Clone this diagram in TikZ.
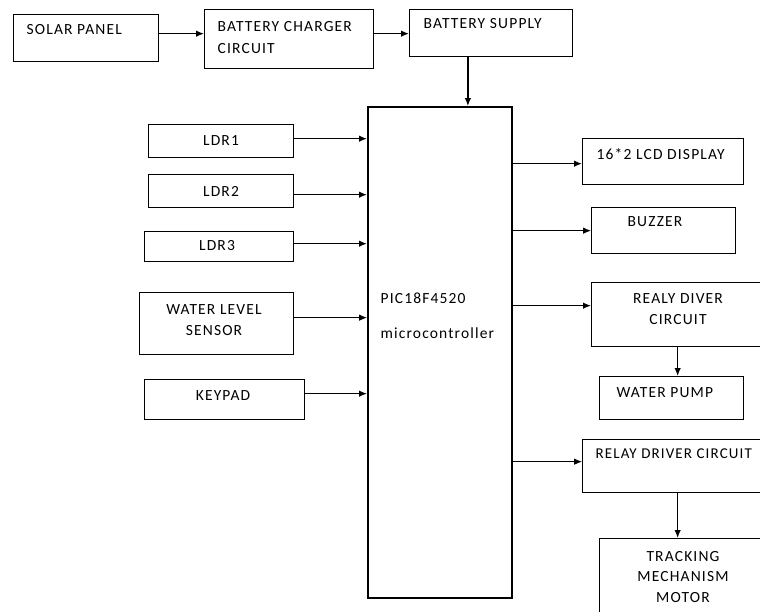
\documentclass[tikz,border=0pt]{standalone}
\usepackage{fontspec}
\setmainfont{Carlito}[LetterSpace=7.5]
\usetikzlibrary{arrows.meta}
\def\conn#1#2{\draw[->] #1 -- #2;}

\begin{document}
\begin{tikzpicture}[>={Latex[length=8pt,width=6.5pt]},x=1pt,y=-1pt,line width=1.3pt,
  box/.style={draw,anchor=north west,inner sep=0pt},
  txt/.style={inner sep=0pt,font=\fontsize{15.5}{21.5}\selectfont},
  fine/.style={line width=0.9pt}]
\useasboundingbox (0,0) rectangle (760,611);
\clip (0,0) rectangle (760,611);
% power chain
\node[box,minimum width=145,minimum height=47] (solar) at (13,14) {};
\node[box,minimum width=169,minimum height=59] (charger) at (204,9) {};
\node[box,minimum width=163,minimum height=47] (supply) at (409,9) {};
\node[box,minimum width=144,minimum height=491,line width=1.8pt] (mcu) at (367,106) {};
% inputs
\node[box,minimum width=145,minimum height=33] (ldr1) at (148,124) {};
\node[box,minimum width=145,minimum height=33] (ldr2) at (148,174) {};
\node[box,minimum width=149,minimum height=30] (ldr3) at (144,231) {};
\node[box,minimum width=154,minimum height=62] (wls) at (139,292) {};
\node[box,minimum width=160,minimum height=40] (keypad) at (144,379) {};
% outputs
\node[box,minimum width=161,minimum height=46] (lcd) at (582,138) {};
\node[box,minimum width=144,minimum height=46] (buzzer) at (591,207) {};
\node[box,minimum width=172,minimum height=64] (relay1) at (591,282) {};
\node[box,minimum width=144,minimum height=43] (pump) at (599,376) {};
\node[box,minimum width=190,minimum height=53] (relay2) at (582,439) {};
\node[box,minimum width=168,minimum height=80] (motor) at (599,538) {};
% labels
\node[txt,anchor=west] (solar-t) at (26,30) {SOLAR PANEL};
\node[txt,anchor=west,align=left] (charger-t) at (217,37.5) {BATTERY CHARGER\\CIRCUIT};
\node[txt,anchor=west] (supply-t) at (423,24) {BATTERY SUPPLY};
\node[txt] (ldr1-t) at (221,141) {LDR1};
\node[txt] (ldr2-t) at (221,191) {LDR2};
\node[txt] (ldr3-t) at (217,246) {LDR3};
\node[txt,align=center] (wls-t) at (214,320) {WATER LEVEL\\SENSOR};
\node[txt] (keypad-t) at (223,396) {KEYPAD};
\node[txt,anchor=west] (mcu-t1) at (380,298) {PIC18F4520};
\node[txt,anchor=west] (mcu-t2) at (380,333) {microcontroller};
\node[txt,anchor=west] (lcd-t) at (596,154) {16*2 LCD DISPLAY};
\node[txt] (buzzer-t) at (655,222) {BUZZER};
\node[txt,align=center] (relay1-t) at (678,309) {REALY DIVER\\CIRCUIT};
\node[txt,anchor=west] (pump-t) at (616,393) {WATER PUMP};
\node[txt,anchor=west,font=\fontsize{15}{21}\selectfont] (relay2-t) at (595,454) {RELAY DRIVER CIRCUIT};
\node[txt,align=center,font=\fontsize{15.5}{20.5}\selectfont] (motor-t) at (683,577) {TRACKING\\MECHANISM\\MOTOR};
% arrows
\coordinate (p1) at ([yshift=4.5pt]solar.east);
\coordinate (p2) at ([yshift=5.5pt]charger.east);
\coordinate (p3) at ([xshift=28pt]mcu.north);
\conn{(p1)}{(p1 -| charger.west)}
\conn{(p2)}{(p2 -| supply.west)}
\conn{(p3 |- supply.south)}{(p3)}
\foreach \n/\d in {ldr1/2.5,ldr2/-3.5,ldr3/3,keypad/6}{
  \coordinate (\n-o) at ([yshift=\d pt]\n.east);
  \conn{(\n-o)}{(\n-o -| mcu.west)}
}
\coordinate (wls-o) at ([yshift=6pt]wls.east);
\draw[->,fine] (wls-o) -- (wls-o -| mcu.west);
\coordinate (lcd-i) at ([yshift=-2pt]lcd.west);
\coordinate (relay1-i) at ([yshift=9pt]relay1.west);
\coordinate (relay2-i) at ([yshift=4.5pt]relay2.west);
\conn{(lcd-i -| mcu.east)}{(lcd-i)}
\draw[->,fine] (buzzer.west -| mcu.east) -- (buzzer.west);
\conn{(relay1-i -| mcu.east)}{(relay1-i)}
\draw[->,fine] (relay2-i -| mcu.east) -- (relay2-i);
\conn{(relay1.south)}{(relay1.south |- pump.north)}
\conn{(relay2.south)}{(relay2.south |- motor.north)}
\end{tikzpicture}
\end{document}
